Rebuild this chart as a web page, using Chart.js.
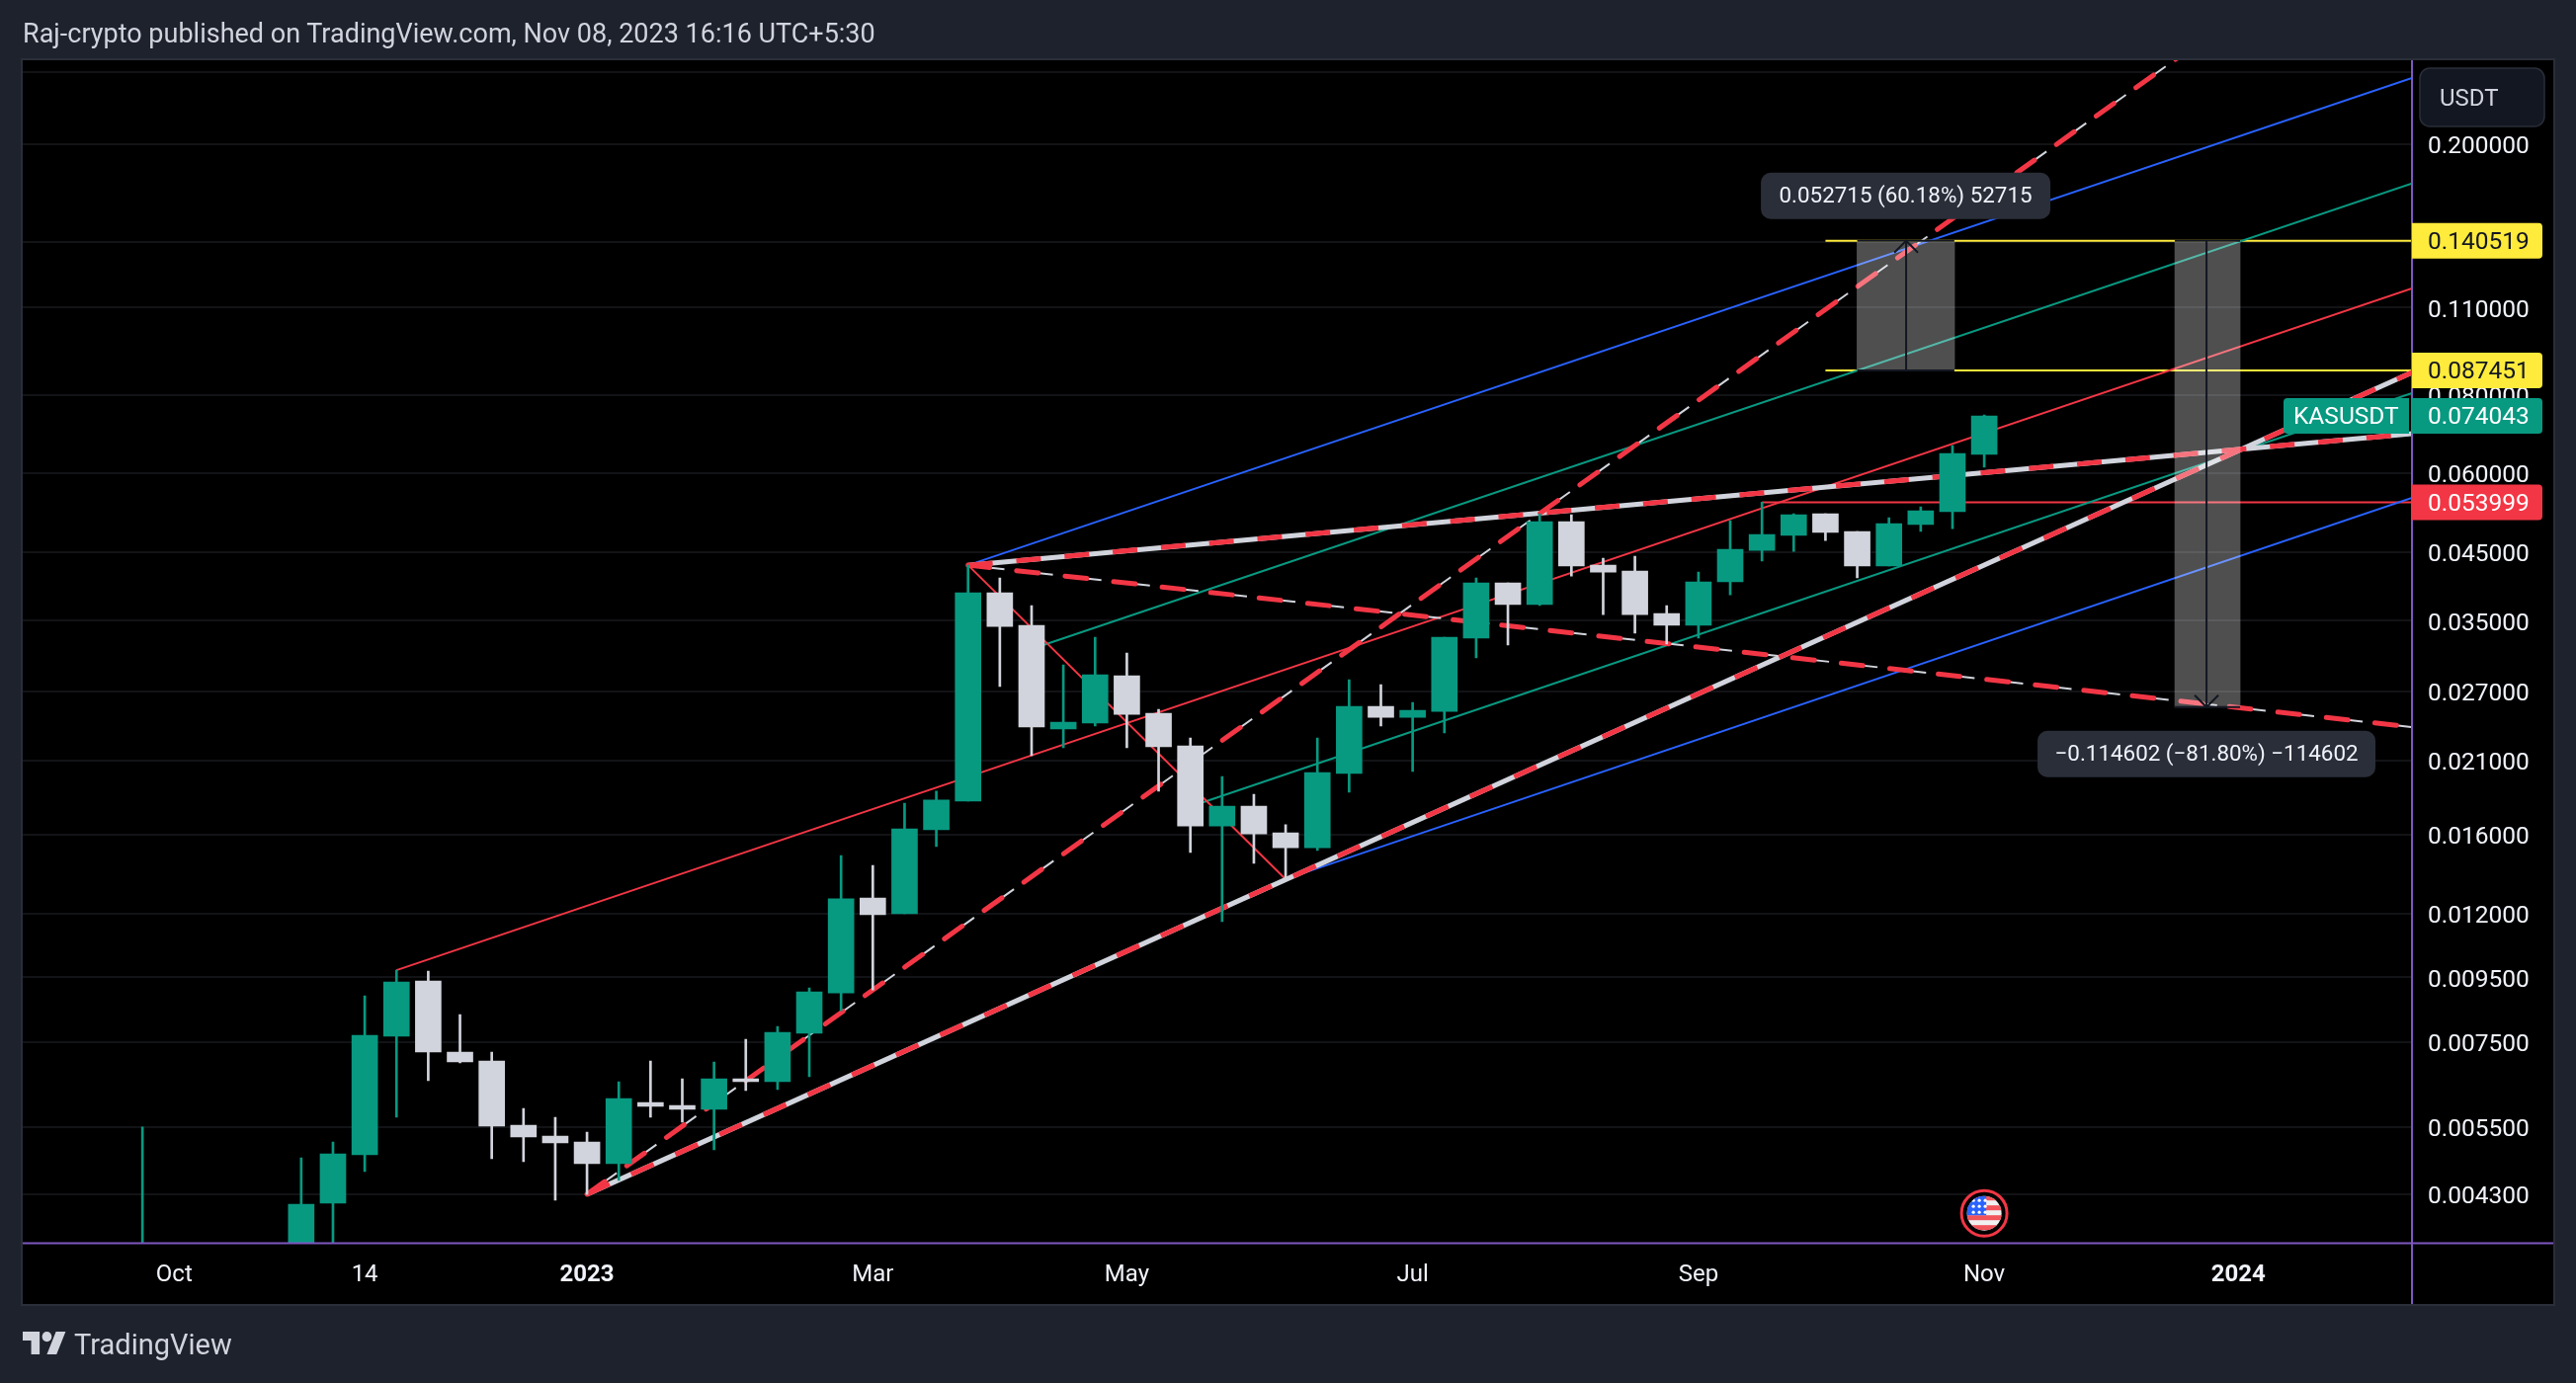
<!DOCTYPE html>
<html><head><meta charset="utf-8">
<title>KASUSDT</title>
<script src="https://cdn.jsdelivr.net/npm/chart.js@4/dist/chart.umd.min.js"></script>
<style>
html,body{margin:0;padding:0;background:#1e222d;width:2607px;height:1400px;overflow:hidden;font-family:Roboto,sans-serif}
#c{position:absolute;left:0;top:0}
#title{position:absolute;left:23px;top:19px;font:27px/30px Roboto;color:#d1d4dc;white-space:nowrap}
#logo{position:absolute;left:23px;top:1348px;width:44px;height:23px;fill:#d1d4dc}
#brand{position:absolute;left:75px;top:1344px;font:29px/34px Roboto;color:#d1d4dc}
</style></head><body>
<canvas id="c" width="2607" height="1400" style="width:2607px;height:1400px"></canvas>
<div id="title">Raj-crypto published on TradingView.com, Nov 08, 2023 16:16 UTC+5:30</div>
<svg id="logo" viewBox="0 4 36 18" preserveAspectRatio="none"><path d="M14 22H7V11H0V4h14v18zM28 22h-8l7.5-18h8L28 22z"/><circle cx="20" cy="8" r="4"/></svg>
<div id="brand">TradingView</div>
<script>
// Weekly candles, x = week number counted from the first week of 2023
const weeks=[-14,-9,-8,-7,-6,-5,-4,-3,-2,-1,0,1,2,3,4,5,6,7,8,9,10,11,12,13,14,15,16,17,18,19,20,21,22,23,24,25,26,27,28,29,30,31,32,33,34,35,36,37,38,39,40,41,42,43,44];
const opens=[.0029,.0034,.00416,.004966,.007661,.009375,.007231,.006999,.005535,.005319,.005204,.004807,.006013,.005949,.005864,.006558,.006488,.007744,.008977,.0127,.01199,.0163,.0181,.03879,.03443,.02356,.02408,.02864,.02496,.02216,.01653,.01777,.01612,.01527,.02003,.0256,.0246,.02514,.03285,.04021,.03714,.05031,.04291,.04199,.03595,.03443,.04036,.0453,.04784,.05179,.04853,.04276,.04977,.05217,.06432];
const closes=[.0034,.004145,.004984,.007688,.009342,.007231,.006973,.005515,.005299,.005186,.004807,.006101,.005927,.005864,.006558,.006488,.007769,.00901,.01266,.01195,.01636,.01817,.03879,.0343,.02373,.02416,.02874,.02487,.02208,.01653,.01777,.01606,.01527,.0201,.0256,.0246,.02524,.03297,.04021,.03714,.05031,.04276,.04184,.03582,.03443,.04036,.04547,.04801,.0516,.04836,.04276,.04995,.05236,.06455,.074043];
const highs=[.0055,.004912,.005204,.00888,.009755,.00972,.008292,.007231,.005885,.005696,.005396,.006488,.006999,.006558,.006973,.007578,.00794,.009141,.01484,.01431,.01797,.01877,.0429,.04095,.03701,.0298,.03297,.03112,.02533,.02281,.01981,.01856,.0166,.02281,.02822,.02772,.02597,.03297,.04095,.04021,.05179,.0516,.04402,.04433,.03701,.04184,.05049,.053999,.05179,.05179,.04853,.05105,.05311,.06645,.07432];
const lows=[.0028,.0033,.003,.00467,.005696,.006511,.006948,.004895,.004842,.004206,.004297,.004521,.005696,.005594,.005056,.00628,.006303,.006606,.008413,.009075,.01199,.01533,.0181,.02752,.02137,.022,.02382,.022,.01877,.015,.01165,.01442,.01361,.01511,.0187,.02382,.02017,.02323,.03056,.03203,.03701,.04124,.03582,.03345,.03215,.03285,.0385,.04354,.04514,.04697,.04095,.04276,.04853,.04905,.06137];
// Axis ticks
const priceTicks=[.26,.2,.14,.11,.08,.06,.045,.035,.027,.021,.016,.012,.0095,.0075,.0055,.0043];
const hiddenPriceLabels=[.26];
const timeTickWeeks=[-13,-7,0,9,17,26,35,44,52];
const timeTickLabels=['Oct','14','2023','Mar','May','Jul','Sep','Nov','2024'];
const boldTimeLabels=['2023','2024'];
// Axis ranges
const weekMin=-17.77, weekMax=57.47, priceMin=.003594, priceMax=.2719;
// Trend lines: [week, price, week, price]
const mainRise=[0,.0043,57.47,.0868];
const steepRise=[0,.0043,57.47,.506];
const topFan=[12,.0429,57.47,.0694];
const lowFan=[12,.0429,57.47,.02373];
const redChannel=[-6,.009755,57.47,.11802];
const redDrop=[12,.0429,22,.01361];
const blueUpper=[12,.0429,57.47,.2548];
const blueLower=[22,.01361,57.47,.05487];
const greenUpper=[14,.03157,57.47,.17328];
const greenLower=[19,.01774,57.47,.08047];
const supportLine=[37,.053999,57.47,.053999];
const yellowTop=[39,.140519,57.47,.140519];
const yellowBottom=[39,.087451,57.47,.087451];
// Price range boxes
const boxUp={left:40,right:43.06,mid:41.54,low:.087451,high:.140519};
const boxDown={left:50,right:52.06,mid:51,low:.02553,high:.140519};
const arrowDW=.373, arrowUp=1.0443;
const eventWeek=44, eventPrice=.00401;

const GREEN='#089981',WHITE='#d1d4dc',RED='#f23645',BLUE='#2962ff',YELLOW='#ffeb3b',PURPLE='#7e57c2',DARK='#131722',INK='#f0f3fa';
const FONT='Roboto';
const seg=a=>[{x:a[0],y:a[1]},{x:a[2],y:a[3]}];
function line(pts,color,width,order,dash,cap){
  return {type:'line',data:pts,borderColor:color,borderWidth:width,borderDash:dash||[],borderCapStyle:cap||'butt',pointRadius:0,tension:0,order,fill:false};
}
const candleColor=closes.map((c,i)=>c>=opens[i]?GREEN:WHITE);
const DA=[25,24],DW=[37,12.4],DR=[22,27.4];
const datasets=[
  line(seg(redChannel),RED,2,30),
  line(seg(redDrop),RED,2,30),
  line(seg(blueUpper),BLUE,2,30),
  line(seg(blueLower),BLUE,2,30),
  line(seg(greenUpper),GREEN,2,30),
  line(seg(greenLower),GREEN,2,30),
  line(seg(supportLine),RED,2,30),
  line(seg(yellowTop),YELLOW,2,30),
  line(seg(yellowBottom),YELLOW,2,30),
  line(seg(mainRise),WHITE,5,22),
  line(seg(mainRise),RED,5,21,DA),
  line(seg(topFan),WHITE,5,22),
  line(seg(topFan),RED,5,21,DA),
  line(seg(steepRise),WHITE,2,22,DW),
  line(seg(steepRise),RED,5,21,DR,'round'),
  line(seg(lowFan),WHITE,2,22,DW),
  line(seg(lowFan),RED,5,21,DR,'round'),
  {type:'bar',label:'wicks',data:weeks.map((w,i)=>({x:w,y:[lows[i],highs[i]]})),backgroundColor:candleColor,barThickness:2,order:11},
  {type:'bar',label:'bodies',data:weeks.map((w,i)=>({x:w,y:[opens[i],closes[i]]})),backgroundColor:candleColor,barThickness:26,order:10},
  {type:'bar',label:'range up',data:[{x:(boxUp.left+boxUp.right)/2,y:[boxUp.low,boxUp.high]}],backgroundColor:'rgba(255,255,255,.31)',barThickness:98.7,order:5},
  {type:'bar',label:'range down',data:[{x:(boxDown.left+boxDown.right)/2,y:[boxDown.low,boxDown.high]}],backgroundColor:'rgba(255,255,255,.31)',barThickness:66,order:5},
];
for(const [b,apex,sign] of [[boxUp,boxUp.high,1],[boxDown,boxDown.low,-1]]){
  datasets.push(line([{x:b.mid,y:b.low},{x:b.mid,y:b.high}],DARK,2,2));
  datasets.push(line([{x:b.left,y:b.low},{x:b.right,y:b.low}],DARK,2,2));
  datasets.push(line([{x:b.left,y:b.high},{x:b.right,y:b.high}],DARK,2,2));
  const f=sign>0?1/arrowUp:arrowUp;
  datasets.push(line([{x:b.mid-arrowDW,y:apex*f},{x:b.mid,y:apex},{x:b.mid+arrowDW,y:apex*f}],DARK,2,2));
}
function rr(ctx,x,y,w,h,r){ctx.beginPath();ctx.roundRect(x,y,w,h,r);}
const overlay={
  id:'overlay',
  beforeDraw(ch){
    const c=ch.ctx;c.save();
    c.fillStyle='#000';c.fillRect(23,61,2561,1259);
    c.strokeStyle='#2a2e39';c.lineWidth=2;c.strokeRect(22,60,2563,1261);
    c.restore();
  },
  afterDraw(ch){
    const c=ch.ctx,X=ch.scales.x,Y=ch.scales.y,A=ch.chartArea;
    c.save();
    // event flag
    const ex=X.getPixelForValue(eventWeek),ey=Y.getPixelForValue(eventPrice);
    c.beginPath();c.arc(ex,ey,23,0,Math.PI*2);c.fillStyle='#000';c.fill();c.lineWidth=3;c.strokeStyle=RED;c.stroke();
    c.save();c.beginPath();c.arc(ex,ey,17.5,0,Math.PI*2);c.clip();
    c.fillStyle='#f0f0f0';c.fillRect(ex-18,ey-18,36,36);
    c.fillStyle='#f2545b';for(let k=0;k<4;k++)c.fillRect(ex-18,ey-18+k*10,36,5);
    c.fillStyle=BLUE;c.fillRect(ex-18,ey-18,20,20);
    c.fillStyle='#fff';for(let a=0;a<3;a++)for(let b=0;b<3;b++){c.beginPath();c.arc(ex-11+b*6,ey-13+a*6,1.6,0,7);c.fill();}
    c.restore();
    // axis dividers
    c.fillStyle=PURPLE;
    c.fillRect(A.right-1,61,2,1259);
    c.fillRect(23,A.bottom-1,2561,2);
    // measure labels
    c.textBaseline='middle';
    const note=(txt,l,r,t,b)=>{c.fillStyle='#2a2e39';rr(c,l,t,r-l,b-t,10);c.fill();c.fillStyle=INK;c.font='22.4px '+FONT;c.textAlign='center';c.fillText(txt,(l+r)/2,(t+b)/2+1);};
    const upX=X.getPixelForValue(boxUp.mid),upY=Y.getPixelForValue(boxUp.high);
    note('0.052715 (60.18%) 52715',upX-147,upX+146,upY-69,upY-22);
    const dnX=X.getPixelForValue(boxDown.mid),dnY=Y.getPixelForValue(boxDown.low);
    note('\u22120.114602 (\u221281.80%) \u2212114602',dnX-171,dnX+171,dnY+24,dnY+71);
    // price tags
    c.font='24.5px '+FONT;c.textAlign='left';
    const tag=(v,bg,fg)=>{const y=Y.getPixelForValue(v);c.fillStyle=bg;rr(c,A.right,y-18,132,36,[0,4,4,0]);c.fill();c.fillStyle=fg;c.fillText(v.toFixed(6),2457,y+2);};
    tag(.140519,YELLOW,'#131722');tag(.087451,YELLOW,'#131722');
    tag(closes[closes.length-1],GREEN,'#fff');tag(.053999,RED,'#fff');
    const ky=Y.getPixelForValue(closes[closes.length-1]);
    c.fillStyle=GREEN;rr(c,2311,ky-18,127,36,[4,0,0,4]);c.fill();c.fillStyle='#fff';c.fillText('KASUSDT',2321,ky+2);
    // currency box
    c.fillStyle=DARK;c.strokeStyle='#2a2e39';c.lineWidth=1.5;rr(c,2449,69,126,59,10);c.fill();c.stroke();
    c.fillStyle=WHITE;c.font='24px '+FONT;c.fillText('USDT',2469,100.5);
    c.restore();
  }
};
new Chart(document.getElementById('c'),{
  type:'bar',
  data:{datasets},
  plugins:[overlay],
  options:{
    responsive:false,animation:false,events:[],
    layout:{padding:{left:23,top:61,right:23,bottom:80}},
    plugins:{legend:{display:false},tooltip:{enabled:false},title:{display:false}},
    scales:{
      x:{type:'linear',stacked:true,offset:false,min:weekMin,max:weekMax,
        grid:{display:false,offset:false},border:{display:false},
        afterBuildTicks:s=>{s.ticks=timeTickWeeks.map(v=>({value:v}));},
        afterFit:s=>{s.height=61.5;},
        ticks:{autoSkip:false,maxRotation:0,minRotation:0,padding:10.5,color:INK,
          font:ctx=>{const i=timeTickWeeks.indexOf(ctx.tick&&ctx.tick.value);return {family:FONT,size:24,weight:boldTimeLabels.includes(timeTickLabels[i])?'bold':'normal'};},
          callback:v=>timeTickLabels[timeTickWeeks.indexOf(v)]}},
      y:{type:'logarithmic',position:'right',stacked:false,beginAtZero:false,min:priceMin,max:priceMax,
        grid:{color:'#121316',lineWidth:2,drawTicks:false},border:{display:false},
        afterBuildTicks:s=>{s.ticks=priceTicks.map(v=>({value:v}));},
        afterFit:s=>{s.width=143;},
        ticks:{autoSkip:false,padding:16,labelOffset:3,color:INK,font:{family:FONT,size:24.5},
          callback:v=>hiddenPriceLabels.includes(v)?'':Number(v).toFixed(6)}}
    }
  }
});
</script>
</body></html>
